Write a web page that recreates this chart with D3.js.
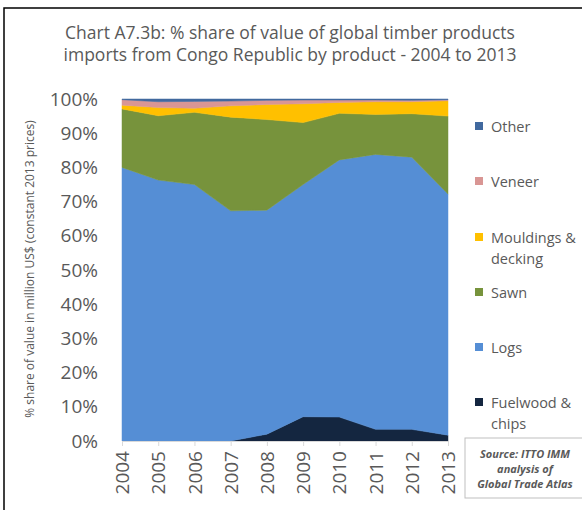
<!DOCTYPE html>
<html>
<head>
<meta charset="utf-8">
<script src="https://cdn.jsdelivr.net/npm/d3@7"></script>
<style>
  body { margin: 0; background: #fff; }
  text { font-family: "Open Sans", "Liberation Sans", sans-serif; fill: #595959; }
</style>
</head>
<body>
<div id="chart"></div>
<script>
// years along the x axis
const years = [2004, 2005, 2006, 2007, 2008, 2009, 2010, 2011, 2012, 2013];

// % shares (bottom to top of the stack)
const fuelwood = [0, 0, 0, 0, 2.0, 7.1, 7.0, 3.4, 3.4, 1.7];
const logs = [80.0, 76.3, 75.0, 67.3, 65.5, 67.9, 75.2, 80.4, 79.6, 70.5];
const sawn = [17.1, 18.8, 21.1, 27.4, 26.5, 18.1, 13.6, 11.7, 12.7, 22.8];
const mouldings = [1.1, 2.4, 1.2, 3.3, 4.4, 5.5, 3.2, 3.7, 3.5, 4.5];
const veneer = [1.6, 1.7, 2.0, 1.4, 1.2, 1.1, 0.7, 0.5, 0.4, 0.3];
const other = [0.2, 0.8, 0.7, 0.6, 0.4, 0.3, 0.3, 0.3, 0.4, 0.2];

const yTicks = [0, 0.1, 0.2, 0.3, 0.4, 0.5, 0.6, 0.7, 0.8, 0.9, 1];

const series = [
  { key: "Fuelwood", values: fuelwood, color: "#142640", label: ["Fuelwood &", "chips"] },
  { key: "Logs", values: logs, color: "#558ed5", label: ["Logs"] },
  { key: "Sawn", values: sawn, color: "#77933c", label: ["Sawn"] },
  { key: "Mouldings", values: mouldings, color: "#ffc000", label: ["Mouldings &", "decking"] },
  { key: "Veneer", values: veneer, color: "#d99694", label: ["Veneer"] },
  { key: "Other", values: other, color: "#41699f", label: ["Other"] }
];

const width = 582, height = 510;
const plotLeft = 122, plotRight = 448, plotTop = 99, plotBottom = 441;

const svg = d3.select("#chart").append("svg")
  .attr("width", width)
  .attr("height", height);

// frame round the whole chart
svg.append("rect")
  .attr("x", 4).attr("y", 8)
  .attr("width", 600).attr("height", 520)
  .attr("fill", "none")
  .attr("stroke", "#000")
  .attr("stroke-width", 1.5);

// title
svg.append("text")
  .attr("x", 290).attr("y", 39)
  .attr("text-anchor", "middle")
  .style("font-size", "17.5px")
  .text("Chart A7.3b: % share of value of global timber products");
svg.append("text")
  .attr("x", 290).attr("y", 61)
  .attr("text-anchor", "middle")
  .style("font-size", "17.5px")
  .text("imports from Congo Republic by product - 2004 to 2013");

// table for the stack
const table = years.map((yr, i) => {
  const row = { year: yr };
  series.forEach(s => { row[s.key] = s.values[i]; });
  return row;
});

const stack = d3.stack()
  .keys(series.map(s => s.key))
  .offset(d3.stackOffsetExpand);
const layers = stack(table);

const x = d3.scaleLinear().domain([2004, 2013]).range([plotLeft, plotRight]);
const y = d3.scaleLinear().domain([0, 1]).range([plotBottom, plotTop]);

const area = d3.area()
  .x(d => x(d.data.year))
  .y0(d => y(d[0]))
  .y1(d => y(d[1]));

svg.append("g").selectAll("path")
  .data(layers)
  .join("path")
  .attr("d", area)
  .attr("fill", (d, i) => series[i].color)
  .attr("stroke", (d, i) => series[i].color)
  .attr("stroke-width", 0.5);

// y axis (labels only)
const yAxis = d3.axisLeft(y)
  .tickValues(yTicks)
  .tickFormat(d3.format(".0%"))
  .tickSize(0)
  .tickPadding(24);
const gy = svg.append("g")
  .attr("transform", `translate(${plotLeft},0)`)
  .call(yAxis);
gy.select(".domain").remove();
gy.selectAll("text")
  .style("font-size", "19px")
  .style("font-family", "'Open Sans', sans-serif")
  .attr("fill", "#595959");

// x axis
const xAxis = d3.axisBottom(x)
  .tickValues(years)
  .tickFormat(d3.format("d"))
  .tickSize(5);
const gx = svg.append("g")
  .attr("transform", `translate(0,${plotBottom})`)
  .call(xAxis);
gx.select(".domain").attr("stroke", "#d9d9d9");
gx.selectAll(".tick line").attr("stroke", "#d9d9d9");
gx.selectAll("text")
  .style("font-size", "19px")
  .style("font-family", "'Open Sans', sans-serif")
  .attr("fill", "#595959")
  .attr("transform", "rotate(-90)")
  .attr("text-anchor", "end")
  .attr("x", -10)
  .attr("y", 0)
  .attr("dy", "0.35em");

// y axis title
svg.append("text")
  .attr("transform", "translate(34,269) rotate(-90)")
  .attr("text-anchor", "middle")
  .style("font-size", "12px")
  .text("% share of value in million US$ (constant 2013 prices)");

// legend, top item first
const legendY = [127, 182, 238, 293, 348, 403];
const legendSeries = series.slice().reverse();
const legend = svg.append("g");
legendSeries.forEach((s, i) => {
  legend.append("rect")
    .attr("x", 475).attr("y", legendY[i] - 5)
    .attr("width", 8).attr("height", 8)
    .attr("fill", s.color);
  s.label.forEach((line, j) => {
    legend.append("text")
      .attr("x", 491).attr("y", legendY[i] + 5 + j * 21)
      .style("font-size", "14.5px")
      .text(line);
  });
});

// source box
svg.append("rect")
  .attr("x", 465).attr("y", 438)
  .attr("width", 140).attr("height", 60)
  .attr("fill", "#fff")
  .attr("stroke", "#bfbfbf");
const sourceLines = ["Source: ITTO IMM", "analysis of", "Global Trade Atlas"];
sourceLines.forEach((line, i) => {
  svg.append("text")
    .attr("x", 525).attr("y", 458 + i * 15)
    .attr("text-anchor", "middle")
    .style("font-size", "11px")
    .style("font-weight", "bold")
    .style("font-style", "italic")
    .text(line);
});
</script>
</body>
</html>
